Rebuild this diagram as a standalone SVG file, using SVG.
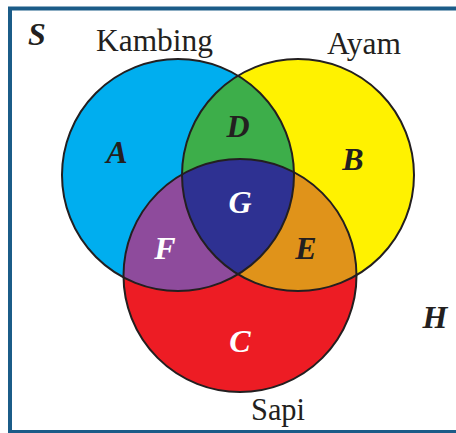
<svg xmlns="http://www.w3.org/2000/svg" width="456" height="433" viewBox="0 0 456 433">
<style>
.lbl{font-family:"Liberation Serif","Times New Roman",serif;font-size:31px;fill:#231F20}
.set{font-family:"Liberation Serif","Times New Roman",serif;font-size:32px;font-weight:bold;font-style:italic;fill:#231F20;text-anchor:middle}
.w{fill:#FFFFFF}
.edge{fill:none;stroke:#231F20;stroke-width:2}
</style>
<defs>
<clipPath id="cK"><circle cx="178" cy="175" r="116"/></clipPath>
<clipPath id="cA"><circle cx="298" cy="175" r="116"/></clipPath>
<clipPath id="cS"><circle cx="240" cy="275.5" r="116.5"/></clipPath>
</defs>
<rect x="0" y="0" width="456" height="433" fill="#FFFFFF"/>
<rect id="universe" x="10" y="8.5" width="460" height="423.5" fill="none" stroke="#1B5C88" stroke-width="4"/>
<g id="fills">
<circle cx="178" cy="175" r="116" fill="#00AEEF"/>
<circle cx="298" cy="175" r="116" fill="#FFF200"/>
<circle cx="240" cy="275.5" r="116.5" fill="#ED1C24"/>
<g clip-path="url(#cK)"><circle cx="298" cy="175" r="116" fill="#3DAE4A"/></g>
<g clip-path="url(#cK)"><circle cx="240" cy="275.5" r="116.5" fill="#8E4B9C"/></g>
<g clip-path="url(#cA)"><circle cx="240" cy="275.5" r="116.5" fill="#E0931A"/></g>
<g clip-path="url(#cK)"><g clip-path="url(#cA)"><circle cx="240" cy="275.5" r="116.5" fill="#2E3192"/></g></g>
</g>
<g id="kambing"><circle class="edge" cx="178" cy="175" r="116"/><text class="lbl" x="96" y="51" textLength="117" lengthAdjust="spacingAndGlyphs">Kambing</text></g>
<g id="ayam"><circle class="edge" cx="298" cy="175" r="116"/><text class="lbl" x="327" y="54" textLength="74" lengthAdjust="spacingAndGlyphs">Ayam</text></g>
<g id="sapi"><circle class="edge" cx="240" cy="275.5" r="116.5"/><text class="lbl" x="251" y="420" textLength="54" lengthAdjust="spacingAndGlyphs">Sapi</text></g>
<g id="labels">
<text class="set" x="37" y="45">S</text>
<text class="set" x="117" y="163">A</text>
<text class="set" x="353" y="170">B</text>
<text class="set w" x="240" y="352">C</text>
<text class="set" x="238" y="137">D</text>
<text class="set" x="306" y="259">E</text>
<text class="set w" x="165" y="259">F</text>
<text class="set w" x="240" y="213">G</text>
<text class="set" x="435" y="328">H</text>
</g>
</svg>
